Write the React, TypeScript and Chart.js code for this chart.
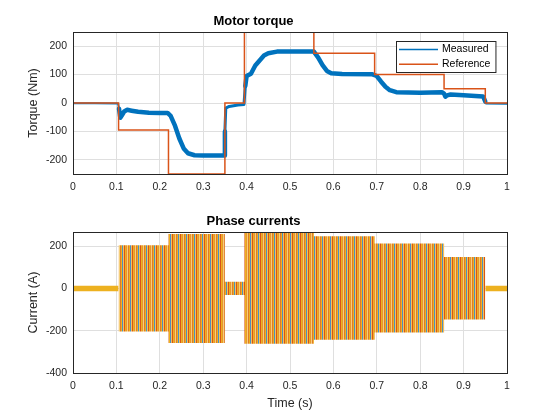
import { useEffect, useRef } from "react";
import { Chart, ChartConfiguration, Plugin, registerables } from "chart.js";

Chart.register(...registerables);

const FONT = "'Liberation Sans', Arial, Helvetica, sans-serif";
const INK = "#262626";
const GRID = "#DFDFDF";
const BLUE = "#0072BD";
const ORANGE = "#D95319";
const YELLOW = "#EDB120";

// shared time axis (s)
const timeTicks = [0, 0.1, 0.2, 0.3, 0.4, 0.5, 0.6, 0.7, 0.8, 0.9, 1];
const torqueTicks = [-200, -100, 0, 100, 200];
const currentTicks = [-400, -200, 0, 200];

// motor torque, measured
const measuredTime = [
  0, 0.05, 0.104, 0.106, 0.109, 0.112, 0.118, 0.125, 0.135, 0.15, 0.175, 0.2,
  0.218, 0.225, 0.235, 0.245, 0.255, 0.265, 0.28, 0.3, 0.348, 0.35, 0.352,
  0.36, 0.38, 0.394, 0.397, 0.4, 0.41, 0.42, 0.44, 0.45, 0.47, 0.5, 0.555,
  0.565, 0.575, 0.585, 0.595, 0.62, 0.69, 0.7, 0.71, 0.72, 0.73, 0.745, 0.8,
  0.85, 0.855, 0.858, 0.862, 0.87, 0.9, 0.945, 0.95, 0.952, 1,
];
const measuredTorque = [
  -1, -1, -2, -20, -52, -45, -30, -24, -27, -31, -34, -35,
  -35, -45, -80, -125, -160, -177, -184, -185, -185, -100, -18,
  -12, -7, -5, 60, 95, 103, 132, 167, 175, 181, 181, 181,
  160, 133, 113, 105, 102, 101, 95, 75, 57, 45, 38, 36,
  38, 33, 22, 27, 30, 27, 23, 5, -2, -3,
];

// motor torque, reference steps
const referenceTime = [0, 0.105, 0.22, 0.35, 0.395, 0.555, 0.695, 0.855, 0.95, 1];
const referenceTorque = [0, -95, -250, 0, 250, 175, 100, 50, 0, 0];

// phase currents, envelope of the three phases per interval
const currentTime = [0, 0.105, 0.22, 0.35, 0.395, 0.555, 0.695, 0.855, 0.95, 1];
const currentUpper = [13, 205, 258, 32, 264, 248, 214, 150, 13, 13];
const currentLower = [-13, -203, -258, -30, -262, -243, -208, -146, -13, -13];

const stripeColors = [
  "#E07A28", "#EDB120", "#4F8DBF", "#F2C25A",
  "#D95319", "#EDB120", "#E8962F", "#F5CF7A",
];

Chart.defaults.font.family = FONT;

const points = (xs: number[], ys: number[]) => xs.map((x, i) => ({ x, y: ys[i] }));

function stripePattern(): CanvasPattern | string {
  const c = document.createElement("canvas");
  c.width = stripeColors.length;
  c.height = 1;
  const g = c.getContext("2d");
  if (!g) return ORANGE;
  stripeColors.forEach((col, i) => {
    g.fillStyle = col;
    g.fillRect(i, 0, 1, 1);
  });
  return g.createPattern(c, "repeat") ?? ORANGE;
}

const axesBox: Plugin = {
  id: "axesBox",
  afterDraw(chart) {
    const { ctx, chartArea: a } = chart;
    ctx.save();
    ctx.strokeStyle = INK;
    ctx.lineWidth = 1;
    ctx.strokeRect(a.left + 0.5, a.top + 0.5, a.width, a.height);
    ctx.restore();
  },
};

const legendBox: Plugin = {
  id: "legendBox",
  afterDraw(chart) {
    const { ctx, chartArea: a } = chart;
    const items = chart.data.datasets;
    ctx.save();
    ctx.font = `10.5px ${FONT}`;
    const textW = Math.max(...items.map((d) => ctx.measureText(String(d.label)).width));
    const w = 46 + textW + 5;
    const h = 31;
    const x = Math.round(a.right - 12 - w);
    const y = Math.round(a.top + 9);
    ctx.fillStyle = "#fff";
    ctx.fillRect(x, y, w, h);
    ctx.strokeStyle = INK;
    ctx.lineWidth = 1;
    ctx.strokeRect(x + 0.5, y + 0.5, w, h);
    items.forEach((d, i) => {
      const cy = y + 8.5 + i * 14.7;
      ctx.strokeStyle = String(d.borderColor);
      ctx.lineWidth = 1.5;
      ctx.beginPath();
      ctx.moveTo(x + 3, cy);
      ctx.lineTo(x + 42, cy);
      ctx.stroke();
      ctx.fillStyle = "#000";
      ctx.textBaseline = "middle";
      ctx.fillText(String(d.label), x + 46, cy);
    });
    ctx.restore();
  },
};

function xScale(height: number, title?: string) {
  return {
    type: "linear" as const,
    min: 0,
    max: 1,
    afterBuildTicks: (s: any) => {
      s.ticks = timeTicks.map((value) => ({ value }));
    },
    afterFit: (s: any) => {
      s.height = height;
    },
    grid: { color: GRID, drawTicks: false },
    border: { display: false },
    ticks: {
      color: INK,
      font: { size: 10.5 },
      padding: 7,
      maxRotation: 0,
      autoSkip: false,
      callback: (v: any) => String(v),
    },
    title: {
      display: !!title,
      text: title ?? "",
      color: INK,
      font: { size: 12.5 },
      padding: { top: 0, bottom: 9 },
    },
  };
}

function yScale(min: number, max: number, ticks: number[], title: string) {
  return {
    type: "linear" as const,
    min,
    max,
    afterBuildTicks: (s: any) => {
      s.ticks = ticks.map((value) => ({ value }));
    },
    afterFit: (s: any) => {
      s.width = 73;
    },
    grid: { color: GRID, drawTicks: false },
    border: { display: false },
    ticks: {
      color: INK,
      font: { size: 10.5 },
      padding: 6,
      callback: (v: any) => String(v),
    },
    title: {
      display: true,
      text: title,
      color: INK,
      font: { size: 12.5 },
      padding: { top: 26, bottom: 0 },
    },
  };
}

function titleOpts(text: string, top: number, bottom: number) {
  return {
    display: true,
    text,
    color: "#000",
    font: { size: 13, weight: "bold" as const },
    padding: { top, bottom },
  };
}

// the measured trace is noisier while current flows
function torqueWidth(t: number) {
  if (t < 0.105 || t >= 0.95) return 2;
  if (t >= 0.35 && t < 0.395) return 3;
  return 4.5;
}

function torqueConfig(): ChartConfiguration {
  return {
    type: "line",
    data: {
      datasets: [
        {
          label: "Measured",
          data: points(measuredTime, measuredTorque),
          borderColor: BLUE,
          borderWidth: 4.5,
          borderJoinStyle: "round",
          borderCapStyle: "round",
          pointRadius: 0,
          tension: 0,
          order: 2,
          segment: { borderWidth: (c: any) => torqueWidth(c.p0.parsed.x) },
        },
        {
          label: "Reference",
          data: points(referenceTime, referenceTorque),
          borderColor: ORANGE,
          borderWidth: 1.5,
          pointRadius: 0,
          stepped: true,
          order: 1,
        },
      ],
    },
    options: {
      responsive: false,
      animation: false,
      layout: { padding: { left: 0, right: 53, top: 0, bottom: 0 } },
      plugins: {
        legend: { display: false },
        tooltip: { enabled: false },
        title: titleOpts("Motor torque", 14, 2.4),
      },
      scales: {
        x: xScale(36),
        y: yScale(-250, 250, torqueTicks, "Torque (Nm)"),
      },
    },
    plugins: [axesBox, legendBox],
  };
}

function currentConfig(): ChartConfiguration {
  const stripes = stripePattern();
  const fillFor = (c: any) =>
    c.p0.parsed.x < 0.1 || c.p0.parsed.x >= 0.95 ? YELLOW : stripes;
  return {
    type: "line",
    data: {
      datasets: [
        {
          label: "upper",
          data: points(currentTime, currentUpper),
          borderColor: "transparent",
          borderWidth: 0,
          backgroundColor: stripes as any,
          pointRadius: 0,
          stepped: true,
          fill: "+1",
          segment: { backgroundColor: fillFor },
        },
        {
          label: "lower",
          data: points(currentTime, currentLower),
          borderColor: "transparent",
          borderWidth: 0,
          pointRadius: 0,
          stepped: true,
          fill: false,
        },
      ],
    },
    options: {
      responsive: false,
      animation: false,
      layout: { padding: { left: 0, right: 53, top: 0, bottom: 0 } },
      plugins: {
        legend: { display: false },
        tooltip: { enabled: false },
        title: titleOpts("Phase currents", 3.2, 3.2),
      },
      scales: {
        x: xScale(47, "Time (s)"),
        y: yScale(-400, 268, currentTicks, "Current (A)"),
      },
    },
    plugins: [axesBox],
  };
}

function Plot({ make, top }: { make: () => ChartConfiguration; top: number }) {
  const ref = useRef<HTMLCanvasElement>(null);
  const chartRef = useRef<Chart | null>(null);

  useEffect(() => {
    if (!ref.current) return;
    if (chartRef.current) chartRef.current.destroy();
    chartRef.current = new Chart(ref.current, make());
    return () => {
      if (chartRef.current) {
        chartRef.current.destroy();
        chartRef.current = null;
      }
    };
  }, [make]);

  return (
    <canvas
      ref={ref}
      width={560}
      height={210}
      style={{ position: "absolute", left: 0, top, width: 560, height: 210 }}
    />
  );
}

export default function App() {
  return (
    <div
      style={{
        position: "absolute",
        left: 0,
        top: 0,
        width: 560,
        height: 420,
        background: "#fff",
      }}
    >
      <Plot make={torqueConfig} top={0} />
      <Plot make={currentConfig} top={210} />
    </div>
  );
}
